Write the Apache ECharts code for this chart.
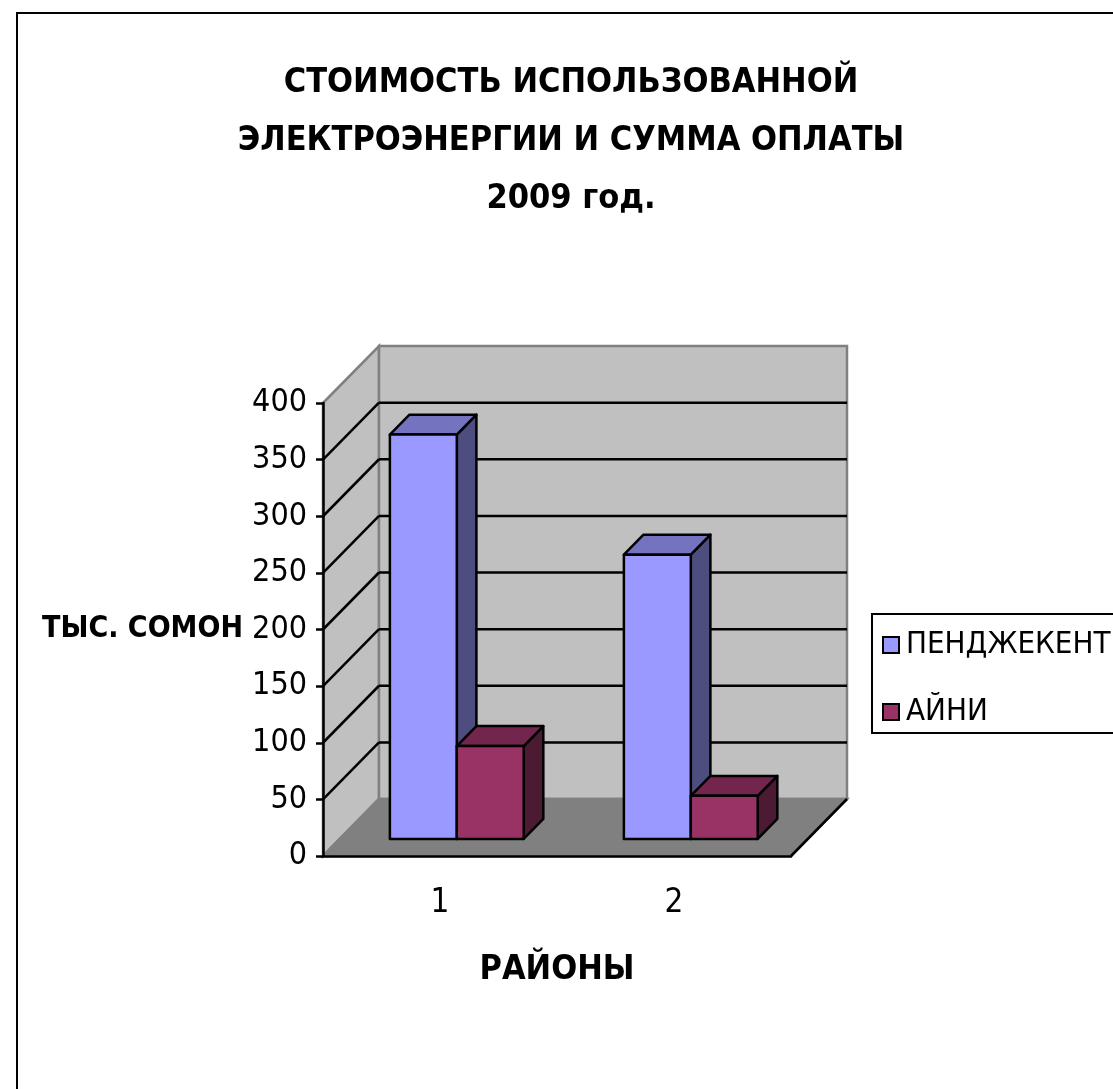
<!DOCTYPE html>
<html>
<head>
<meta charset="utf-8">
<script src="https://cdn.jsdelivr.net/npm/echarts@6/dist/echarts.min.js"></script>
<style>
  html, body { margin: 0; padding: 0; background: #ffffff; }
  #chart { width: 1113px; height: 1089px; }
</style>
</head>
<body>
<div id="chart"></div>
<script>
// Districts and payment figures (thousand somoni), 2009
const categories = ['1', '2'];
const seriesNames = ['ПЕНДЖЕКЕНТ', 'АЙНИ'];
const penjikent = [357, 251];
const ayni = [82, 38];
const yMin = 0, yMax = 400, yStep = 50;

const FONT = "'Liberation Sans Narrow', 'Arial Narrow', 'DejaVu Sans Condensed', 'Liberation Sans', sans-serif";

// Oblique depth of the 3D box (px), and where the columns sit inside it
const DEPTH = [56, -57];
const BAR_FRONT = 0.3;
const BAR_DEPTH = 0.35;
const BAR_FRAC = 0.286;

const faceColors = [
  { front: '#9999ff', top: '#7373bf', side: '#4d4d80' },
  { front: '#993366', top: '#73264d', side: '#4d1a33' }
];

function renderWalls(params, api) {
  const cs = params.coordSys;
  const x0 = cs.x, x1 = cs.x + cs.width;
  const yTop = cs.y, yBot = cs.y + cs.height;
  const dx = DEPTH[0], dy = DEPTH[1];
  const wallStroke = { stroke: '#808080', lineWidth: 2.5 };
  const grid = { stroke: '#000', lineWidth: 2.5 };
  const children = [
    { type: 'polygon', shape: { points: [[x0, yTop], [x0 + dx, yTop + dy], [x0 + dx, yBot + dy], [x0, yBot]] },
      style: Object.assign({ fill: '#c0c0c0' }, wallStroke) },
    { type: 'rect', shape: { x: x0 + dx, y: yTop + dy, width: cs.width, height: cs.height },
      style: Object.assign({ fill: '#c0c0c0' }, wallStroke) },
    { type: 'polygon', shape: { points: [[x0, yBot], [x1, yBot], [x1 + dx, yBot + dy], [x0 + dx, yBot + dy]] },
      style: Object.assign({ fill: '#808080' }, wallStroke) },
    { type: 'line', shape: { x1: x1, y1: yBot, x2: x1 + dx, y2: yBot + dy }, style: grid }
  ];
  for (let v = yMin + yStep; v < yMax; v += yStep) {
    const y = api.coord([0, v])[1];
    children.push({ type: 'line', shape: { x1: x0 + dx, y1: y + dy, x2: x1 + dx, y2: y + dy }, style: grid });
    children.push({ type: 'line', shape: { x1: x0, y1: y, x2: x0 + dx, y2: y + dy }, style: grid });
  }
  return { type: 'group', children: children };
}

function makeBarRenderer(k) {
  return function (params, api) {
    const ci = api.value(0);
    const v = api.value(1);
    const band = api.size([1, 0])[0];
    const base = api.coord([ci, 0]);
    const peak = api.coord([ci, v]);
    const bw = band * BAR_FRAC;
    const f = [DEPTH[0] * BAR_FRONT, DEPTH[1] * BAR_FRONT];
    const s = [DEPTH[0] * BAR_DEPTH, DEPTH[1] * BAR_DEPTH];
    const left = base[0] - bw + k * bw + f[0];
    const right = left + bw;
    const bottom = base[1] + f[1];
    const top = peak[1] + f[1];
    const c = faceColors[k];
    const edge = { stroke: '#000', lineWidth: 2.5, lineJoin: 'round' };
    return {
      type: 'group',
      children: [
        { type: 'polygon', shape: { points: [[right, top], [right + s[0], top + s[1]], [right + s[0], bottom + s[1]], [right, bottom]] },
          style: Object.assign({ fill: c.side }, edge) },
        { type: 'polygon', shape: { points: [[left, top], [right, top], [right + s[0], top + s[1]], [left + s[0], top + s[1]]] },
          style: Object.assign({ fill: c.top }, edge) },
        { type: 'rect', shape: { x: left, y: top, width: bw, height: bottom - top },
          style: Object.assign({ fill: c.front }, edge) }
      ]
    };
  };
}

const chart = echarts.init(document.getElementById('chart'), null, { renderer: 'canvas' });

chart.setOption({
  backgroundColor: '#ffffff',
  animation: false,
  title: {
    text: 'СТОИМОСТЬ ИСПОЛЬЗОВАННОЙ\nЭЛЕКТРОЭНЕРГИИ И СУММА ОПЛАТЫ\n2009 год.',
    left: 566,
    textAlign: 'center',
    top: 49,
    textStyle: { fontFamily: FONT, fontWeight: 'bold', fontSize: 34, lineHeight: 58, color: '#000' }
  },
  legend: {
    orient: 'vertical',
    left: 872,
    top: 614,
    padding: [13, 14, 3, 10],
    itemGap: 31,
    itemWidth: 16,
    itemHeight: 16,
    icon: 'rect',
    backgroundColor: '#ffffff',
    borderColor: '#000',
    borderWidth: 2,
    borderRadius: 0,
    textStyle: { fontFamily: FONT, fontSize: 31, lineHeight: 36, color: '#000', padding: [0, 0, 0, 2] },
    data: seriesNames
  },
  graphic: [
    { type: 'rect', shape: { x: 17, y: 13, width: 1200, height: 1200 },
      style: { fill: 'none', stroke: '#000', lineWidth: 2 }, z: 100, silent: true }
  ],
  grid: {
    left: 323, top: 403, width: 468, height: 453,
    containLabel: false,
    outerBoundsMode: 'none'
  },
  xAxis: {
    type: 'category',
    data: categories,
    z: 5,
    name: 'РАЙОНЫ',
    nameLocation: 'middle',
    nameGap: 97,
    nameTextStyle: { fontFamily: FONT, fontWeight: 'bold', fontSize: 34, color: '#000' },
    axisLine: { lineStyle: { color: '#000', width: 2.5 } },
    axisTick: { length: 8, lineStyle: { color: '#000', width: 2.5 } },
    axisLabel: { margin: 31, fontFamily: FONT, fontSize: 33, color: '#000' },
    splitLine: { show: false }
  },
  yAxis: {
    type: 'value',
    min: yMin, max: yMax, interval: yStep,
    z: 5,
    name: 'ТЫС. СОМОН',
    nameLocation: 'middle',
    nameRotate: 0,
    nameGap: 80,
    nameTextStyle: { fontFamily: FONT, fontWeight: 'bold', fontSize: 30, color: '#000', align: 'right', verticalAlign: 'middle' },
    axisLine: { show: true, lineStyle: { color: '#000', width: 2.5 } },
    axisTick: { show: true, length: 7, lineStyle: { color: '#000', width: 2.5 } },
    axisLabel: { margin: 16, fontFamily: FONT, fontSize: 32, color: '#000' },
    splitLine: { show: false }
  },
  series: [
    {
      name: 'walls',
      type: 'custom',
      z: 1,
      silent: true,
      renderItem: renderWalls,
      data: [[0, 0]],
      encode: { x: 0, y: 1 },
      clip: false
    },
    {
      name: seriesNames[0],
      type: 'custom',
      z: 3,
      itemStyle: { color: faceColors[0].front, borderColor: '#000', borderWidth: 1.5 },
      renderItem: makeBarRenderer(0),
      data: categories.map((c, i) => [i, penjikent[i]]),
      encode: { x: 0, y: 1 },
      clip: false
    },
    {
      name: seriesNames[1],
      type: 'custom',
      z: 3,
      itemStyle: { color: faceColors[1].front, borderColor: '#000', borderWidth: 1.5 },
      renderItem: makeBarRenderer(1),
      data: categories.map((c, i) => [i, ayni[i]]),
      encode: { x: 0, y: 1 },
      clip: false
    }
  ]
});
</script>
</body>
</html>
